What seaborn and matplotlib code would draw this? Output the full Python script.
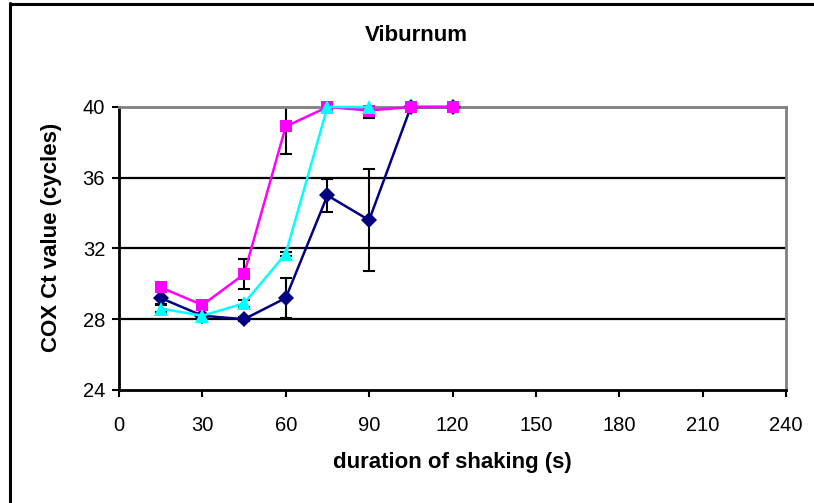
import matplotlib
matplotlib.use("Agg")
import matplotlib.pyplot as plt
import seaborn as sns
import pandas as pd
from matplotlib.lines import Line2D

sns.set_theme(style="white")
plt.rcParams["font.family"] = ["Liberation Sans", "DejaVu Sans"]

# Shaking duration (s) and mean Ct values per series, with error bar half-widths
x_navy = [15, 30, 45, 60, 75, 90, 105, 120]
ct_navy = [29.2, 28.2, 28.0, 29.2, 35.0, 33.6, 40.0, 40.0]
err_navy = [0.35, 0.1, 0.1, 1.15, 0.95, 2.9, 0.0, 0.0]

x_magenta = [15, 30, 45, 60, 75, 90, 105, 120]
ct_magenta = [29.8, 28.8, 30.55, 38.9, 40.0, 39.8, 40.0, 40.0]
err_magenta = [0.2, 0.15, 0.85, 1.55, 0.0, 0.4, 0.0, 0.0]

x_cyan = [15, 30, 45, 60, 75, 90]
ct_cyan = [28.6, 28.2, 28.9, 31.7, 40.0, 40.0]
err_cyan = [0.2, 0.1, 0.2, 0.1, 0.0, 0.1]

x_ticks = [0, 30, 60, 90, 120, 150, 180, 210, 240]
y_ticks = [24, 28, 32, 36, 40]

series = [
    ("navy", x_navy, ct_navy, err_navy, "#000080", "D", 8.5),
    ("magenta", x_magenta, ct_magenta, err_magenta, "#FF00FF", "s", 8.5),
    ("cyan", x_cyan, ct_cyan, err_cyan, "#00FFFF", "^", 10),
]

fig = plt.figure(figsize=(8.14, 5.03), dpi=100)
ax = fig.add_axes([0.1462, 0.2247, 0.8194, 0.5626])

# error bars first so the markers sit on top
for name, xs, ys, es, col, mk, ms in series:
    ax.errorbar(xs, ys, yerr=es, fmt="none", ecolor="black", elinewidth=1.5,
                capsize=4.5, capthick=1.5, zorder=2)

for name, xs, ys, es, col, mk, ms in series:
    df = pd.DataFrame({"x": xs, "y": ys})
    sns.lineplot(data=df, x="x", y="y", ax=ax, color=col, lw=1.8,
                 marker=mk, markersize=ms, markeredgecolor=col,
                 markeredgewidth=0, zorder=3, clip_on=False)

ax.set_xlim(0, 240)
ax.set_ylim(24, 40)
ax.set_xticks(x_ticks)
ax.set_yticks(y_ticks)
ax.tick_params(axis="both", which="major", labelsize=14.5, length=5, width=1.5,
               direction="out", color="black", labelcolor="black")
ax.tick_params(axis="x", bottom=True, pad=14)
ax.tick_params(axis="y", left=True, pad=5)

for yv in [28, 32, 36]:
    ax.axhline(yv, color="black", lw=1.6, zorder=1)

for side in ["top", "right"]:
    ax.spines[side].set_color("#808080")
    ax.spines[side].set_linewidth(2)
for side in ["left", "bottom"]:
    ax.spines[side].set_color("black")
    ax.spines[side].set_linewidth(2)

ax.set_xlabel("duration of shaking (s)", fontsize=16, fontweight="bold",
              labelpad=12, color="black")
ax.set_ylabel("COX Ct value (cycles)", fontsize=16, fontweight="bold",
              color="black")
ax.yaxis.set_label_coords(-0.086, 0.54)

fig.text(0.511, 0.930, "Viburnum", ha="center", va="center", fontsize=16,
         fontweight="bold", color="black")

# chart area edge on the left and top
fig.add_artist(Line2D([0.0117, 0.0117], [0, 0.994], transform=fig.transFigure,
                      color="black", lw=2.2))
fig.add_artist(Line2D([0.0117, 1.0], [0.993, 0.993], transform=fig.transFigure,
                      color="black", lw=2.2))

fig.savefig("out.png", dpi=100)
